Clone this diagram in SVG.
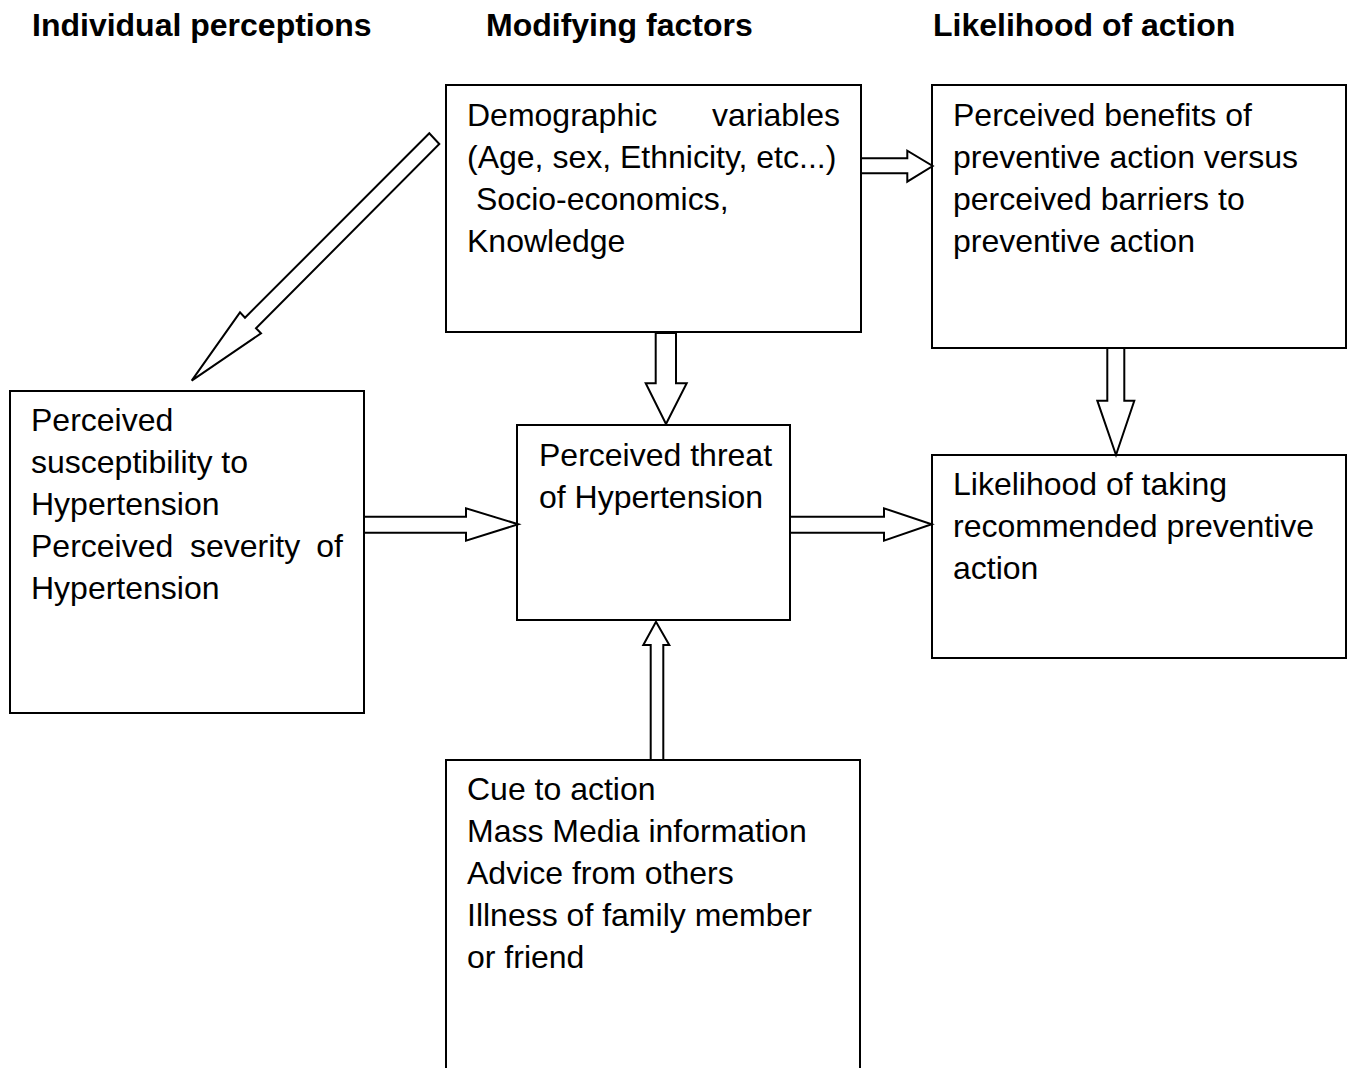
<svg xmlns="http://www.w3.org/2000/svg" width="1354" height="1068" viewBox="0 0 1354 1068">
<style>
.box{fill:#fff;stroke:#000;stroke-width:2}
.arr{fill:#fff;stroke:#000;stroke-width:2;stroke-linejoin:miter}
text{font-family:"Liberation Sans",Arial,sans-serif;font-size:32px;fill:#000}
.h{font-weight:bold}
</style>
<rect width="1354" height="1068" fill="#fff"/>
<g id="headers">
<text class="h" x="32" y="36">Individual perceptions</text>
<text class="h" x="486" y="36">Modifying factors</text>
<text class="h" x="933" y="36">Likelihood of action</text>
</g>
<g id="node-demographic">
<rect class="box" x="446" y="85" width="415" height="247"/>
<text x="467" y="126">Demographic</text>
<text x="840" y="126" text-anchor="end">variables</text>
<text x="467" y="168">(Age, sex, Ethnicity, etc...)</text>
<text x="476" y="210">Socio-economics,</text>
<text x="467" y="252">Knowledge</text>
</g>
<g id="node-benefits">
<rect class="box" x="932" y="85" width="414" height="263"/>
<text x="953" y="126">Perceived benefits of</text>
<text x="953" y="168">preventive action versus</text>
<text x="953" y="210">perceived barriers to</text>
<text x="953" y="252">preventive action</text>
</g>
<g id="node-susceptibility">
<rect class="box" x="10" y="391" width="354" height="322"/>
<text x="31" y="431">Perceived</text>
<text x="31" y="473">susceptibility to</text>
<text x="31" y="515">Hypertension</text>
<text x="31" y="557">Perceived</text>
<text x="190" y="557">severity</text>
<text x="343" y="557" text-anchor="end">of</text>
<text x="31" y="599">Hypertension</text>
</g>
<g id="node-threat">
<rect class="box" x="517" y="425" width="273" height="195"/>
<text x="539" y="466">Perceived threat</text>
<text x="539" y="508">of Hypertension</text>
</g>
<g id="node-likelihood">
<rect class="box" x="932" y="455" width="414" height="203"/>
<text x="953" y="495">Likelihood of taking</text>
<text x="953" y="537">recommended preventive</text>
<text x="953" y="579">action</text>
</g>
<g id="node-cue">
<rect class="box" x="446" y="760" width="414" height="330"/>
<text x="467" y="800">Cue to action</text>
<text x="467" y="842">Mass Media information</text>
<text x="467" y="884">Advice from others</text>
<text x="467" y="926">Illness of family member</text>
<text x="467" y="968">or friend</text>
</g>
<g id="connectors">
<polygon class="arr" points="429.3,133.3 245,317.7 240,312.3 191.7,380.7 261,333.3 256,328.3 439.3,144"/>
<polygon class="arr" points="655.7,333 655.7,383.3 645.7,383.3 666,424 686.7,383.3 676,383.3 676,333"/>
<polygon class="arr" points="861,158.3 907.3,158.3 907.3,150.7 932.7,166 907.3,181.7 907.3,173.3 861,173.3"/>
<polygon class="arr" points="364,516.7 466,516.7 466,508.3 518.3,524.3 466,540.7 466,532.7 364,532.7"/>
<polygon class="arr" points="790,516.7 884,516.7 884,508.3 931.7,524.3 884,540.7 884,532.7 790,532.7"/>
<polygon class="arr" points="650.7,760 650.7,645 643.3,645 656,621.7 669.3,645 663.3,645 663.3,760"/>
<polygon class="arr" points="1107.3,348 1107.3,400.7 1097.3,400.7 1116,455 1134.3,400.7 1124.3,400.7 1124.3,348"/>
</g>
</svg>
